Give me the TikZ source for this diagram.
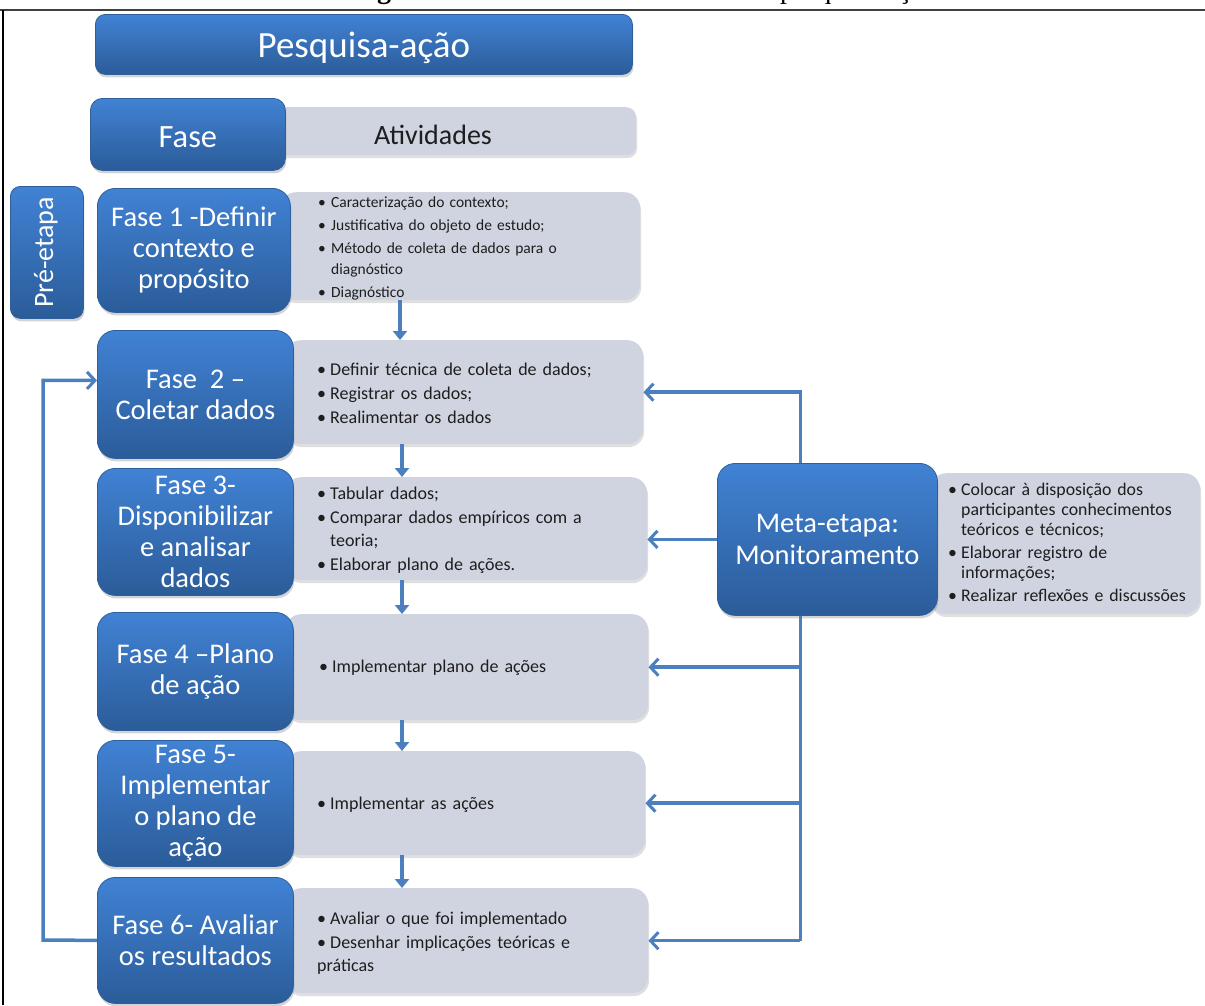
\documentclass[tikz,border=0pt]{standalone}
\usepackage{fontspec}
\setmainfont{Carlito}
\newfontfamily\capfont{Liberation Serif}
\usetikzlibrary{arrows.meta,shadows,calc}

\definecolor{blueTop}{HTML}{4182D4}
\definecolor{blueBot}{HTML}{2B5C99}
\definecolor{blueEdge}{HTML}{2F5F9C}
\definecolor{grayFill}{HTML}{CFD4E0}
\definecolor{flowCol}{HTML}{4C7FBD}
\definecolor{txt}{HTML}{1E1E1E}

% bullet line with hanging indent for continuation lines
\newcommand{\bitem}[1]{\par\noindent\hangindent=13pt\hangafter=1\makebox[13pt][l]{\textbullet}#1}

\tikzset{
  bluebox/.style={rounded corners=18pt, top color=blueTop, bottom color=blueBot,
    draw=blueEdge, line width=0.8pt, text=white, align=center, inner sep=0pt,
    font=\fontsize{28.5}{31}\selectfont,
    drop shadow={opacity=0.35, shadow xshift=1pt, shadow yshift=-3pt}},
  graybox/.style={rounded corners=16pt, fill=grayFill, draw=none, inner sep=0pt,
    drop shadow={opacity=0.25, shadow xshift=1pt, shadow yshift=-3pt}},
  bullets/.style={anchor=west, align=left, text=txt, inner sep=0pt,
    font=\fontsize{18}{23}\selectfont, text width=#1},
  smallbullets/.style={bullets=#1, font=\fontsize{15.5}{21}\selectfont},
  metabullets/.style={bullets=#1, font=\fontsize{17.8}{20}\selectfont},
  whitelabel/.style={text=white, inner sep=0pt},
  flow/.style={draw=flowCol, line width=3.5pt},
  sidearrow/.style={flow, -{Straight Barb[length=8pt,width=17pt,line width=3pt]}},
  downarrow/.style={flow, -{Triangle[length=9pt,width=14pt]}}
}

\begin{document}
\begin{tikzpicture}[x=1pt,y=-1pt]
\useasboundingbox (0,0) rectangle (1205,1005);

% caption above the frame, mostly cut away
\begin{scope}
  \clip (0,0) rectangle (1205,9);
  \node[anchor=base west, inner sep=0pt, font=\capfont\fontsize{28}{32}\selectfont] (cap) at (352,-1.5)
    {\textbf{Figura 1 –} Fases e atividades de uma pesquisa-ação};
\end{scope}
% frame lines
\draw[line width=2pt, black!75] (0,10) -- (1205,10);
\draw[line width=1.5pt, black] (3,10) -- (3,1005);

% title
\node[bluebox, minimum width=537pt, minimum height=60pt, anchor=north west, rounded corners=10pt] (title) at (95,14) {};
\node[whitelabel, font=\fontsize{37}{40}\selectfont] (titletxt) at ([yshift=-3pt]title.center) {Pesquisa-ação};

% header row
\node[graybox, minimum width=366pt, minimum height=48pt, anchor=north west, rounded corners=10pt] (ghead) at (270,107) {};
\node[anchor=center, text=txt, font=\fontsize{28}{32}\selectfont] (hact) at (433,135) {Atividades};
\node[bluebox, minimum width=195pt, minimum height=72pt, anchor=north west, rounded corners=12pt] (fhead) at (90,98) {};
\node[whitelabel, font=\fontsize{32.5}{36}\selectfont] (fheadtxt) at ([yshift=-3pt]fhead.center) {Fase};

% pre-stage label
\node[bluebox, minimum width=73pt, minimum height=132pt, anchor=north west, rounded corners=10pt] (pre) at (10,186) {};
\node[whitelabel, rotate=90, font=\fontsize{28}{32}\selectfont] (pretxt) at ([xshift=-1pt]pre.center) {Pré-etapa};

% activity boxes
\node[graybox, minimum width=360pt, minimum height=108pt, anchor=north west] (g1) at (280,192) {};
\node[graybox, minimum width=358pt, minimum height=104pt, anchor=north west] (g2) at (285,340) {};
\node[graybox, minimum width=362pt, minimum height=103pt, anchor=north west] (g3) at (285,477) {};
\node[graybox, minimum width=363pt, minimum height=106pt, anchor=north west] (g4) at (285,614) {};
\node[graybox, minimum width=360pt, minimum height=104pt, anchor=north west] (g5) at (285,751) {};
\node[graybox, minimum width=363pt, minimum height=105pt, anchor=north west] (g6) at (285,888) {};
\node[graybox, minimum width=270pt, minimum height=141pt, anchor=north west] (gm) at (930,473) {};

% activity texts
\node[smallbullets=300pt] (t1) at (318,243) {%
  \bitem{Caracterização do contexto;}\vspace{2pt}
  \bitem{Justificativa do objeto de estudo;}\vspace{2pt}
  \bitem{Método de coleta de dados para o\newline diagnóstico}\vspace{2pt}
  \bitem{Diagnóstico}};
\node[bullets=310pt] (t2) at (317,388) {%
  \bitem{Definir técnica de coleta de dados;}\vspace{1pt}
  \bitem{Registrar os dados;}\vspace{1pt}
  \bitem{Realimentar os dados}};
\node[bullets=310pt] (t3) at (317,525) {%
  \bitem{Tabular dados;}\vspace{1pt}
  \bitem{Comparar dados empíricos com a\newline teoria;}\vspace{1pt}
  \bitem{Elaborar plano de ações.}};
\node[bullets=310pt] (t4) at (319,662) {%
  \bitem{Implementar plano de ações}};
\node[bullets=310pt] (t5) at (317,799) {%
  \bitem{Implementar as ações}};
\node[bullets=310pt] (t6) at (317,938) {%
  \bitem{Avaliar o que foi implementado}\vspace{1pt}
  \bitem{Desenhar implicações teóricas e\newline práticas}};
\node[metabullets=260pt] (tm) at (948,539) {%
  \bitem{Colocar à disposição dos\newline participantes conhecimentos\newline teóricos e técnicos;}\vspace{3pt}
  \bitem{Elaborar registro de\newline informações;}\vspace{3pt}
  \bitem{Realizar reflexões e discussões}};

% phase boxes
\node[bluebox, minimum width=193pt, minimum height=124pt, anchor=north west] (f1) at (97,188)
  {Fase 1 -Definir\\contexto e\\propósito};
\node[bluebox, minimum width=196pt, minimum height=128pt, anchor=north west] (f2) at (97,330)
  {Fase\ \ 2 –\\Coletar dados};
\node[bluebox, minimum width=196pt, minimum height=127pt, anchor=north west] (f3) at (97,468)
  {Fase 3-\\Disponibilizar\\e analisar\\dados};
\node[bluebox, minimum width=196pt, minimum height=118pt, anchor=north west] (f4) at (97,612)
  {Fase 4 –Plano\\de ação};
\node[bluebox, minimum width=196pt, minimum height=126pt, anchor=north west] (f5) at (97,740)
  {Fase 5-\\Implementar\\o plano de\\ação};
\node[bluebox, minimum width=196pt, minimum height=126pt, anchor=north west] (f6) at (97,877)
  {Fase 6- Avaliar\\os resultados};

% monitoring box
\node[bluebox, minimum width=220pt, minimum height=152pt, anchor=north west,
  font=\fontsize{28.5}{32}\selectfont] (meta) at (717,463) {Meta-etapa:\\Monitoramento};

% sequence arrows between phases
\draw[downarrow] ([xshift=120pt]g1.south west) -- ([xshift=115pt]g2.north west);
\draw[downarrow] ([xshift=117pt]g2.south west) -- ([xshift=117pt]g3.north west);
\draw[downarrow] ([xshift=117pt]g3.south west) -- ([xshift=117pt]g4.north west);
\draw[downarrow] ([xshift=117pt]g4.south west) -- ([xshift=117pt]g5.north west);
\draw[downarrow] ([xshift=117pt]g5.south west) -- ([xshift=117pt]g6.north west);

% monitoring feeds every phase
\coordinate (bus) at ([xshift=-27pt]meta.north);
\coordinate (busend) at ($(bus)!1!(bus |- g6.east)$);
\draw[sidearrow] (bus) |- (g2.east);
\draw[sidearrow] (meta.west) -- (g3.east |- meta.west);
\draw[flow] ([xshift=-27pt]meta.south) -- (busend);
\draw[sidearrow] (bus |- g4.east) -- (g4.east);
\draw[sidearrow] (bus |- g5.east) -- (g5.east);
\draw[sidearrow] (busend) -- (g6.east);

% evaluation loops back to data collection
\coordinate (loop) at (43,940);
\draw[sidearrow] (f6.west) -- (loop) |- ([yshift=14pt]f2.west);
\end{tikzpicture}
\end{document}
